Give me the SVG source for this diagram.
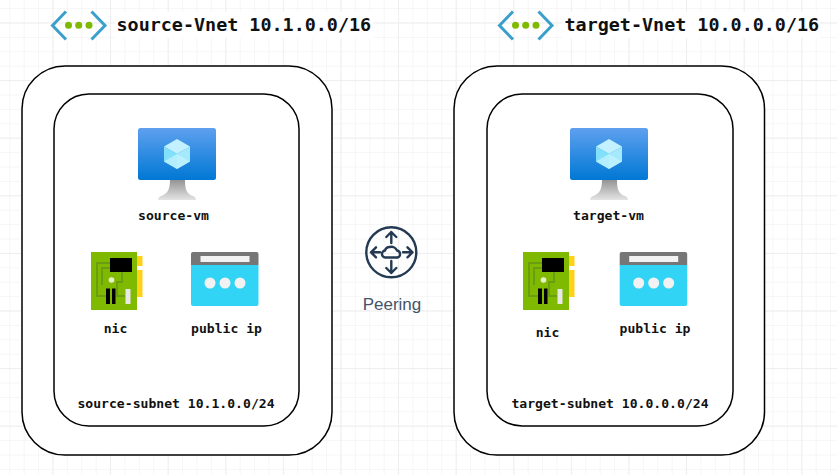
<svg xmlns="http://www.w3.org/2000/svg" xmlns:xlink="http://www.w3.org/1999/xlink" width="837" height="475" viewBox="0 0 837 475">
<style>
.box{fill:#fff;stroke:#000;stroke-width:1.5}
.t{font-family:"DejaVu Sans Mono","Liberation Mono",monospace;font-weight:700;fill:#111;text-anchor:middle}
.h{font-size:18.4px;text-anchor:start}
.n{font-size:13.1px}
.ch{fill:none;stroke:#3b9fcc;stroke-width:3}
.pe{fill:none;stroke:#243a53;stroke-width:2.4;stroke-linecap:round;stroke-linejoin:round}
</style>
<defs>
<pattern id="minor" patternUnits="userSpaceOnUse" x="-5.1" y="-35.1" width="14.4" height="14.4">
<path d="M0 0H14.4M0 0V14.4" fill="none" stroke="#f3f3f3" stroke-width="1.4"/>
</pattern>
<pattern id="major" patternUnits="userSpaceOnUse" x="-5.1" y="-35.1" width="57.6" height="57.6">
<path d="M0 0H57.6M0 0V57.6" fill="none" stroke="#ececec" stroke-width="1.4"/>
</pattern>
<linearGradient id="scr" x1="0" y1="0" x2="0" y2="1">
<stop offset="0" stop-color="#5ea0ef"/><stop offset="1" stop-color="#0078d4"/>
</linearGradient>
<linearGradient id="std" x1="0" y1="0" x2="0" y2="1">
<stop offset="0" stop-color="#949494"/><stop offset="1" stop-color="#e4e4e4"/>
</linearGradient>
<g id="vnet-icon">
<path class="ch" d="M66 11.5L52.5 25.5L66 39.5M91.5 11.5L105 25.5L91.5 39.5"/>
<circle cx="68.5" cy="25.3" r="3.5" fill="#7fba00"/><circle cx="78.7" cy="25.3" r="3.5" fill="#7fba00"/><circle cx="89" cy="25.3" r="3.5" fill="#7fba00"/>
</g>
<g id="vm-icon">
<rect x="138" y="128" width="78" height="52" rx="2.5" fill="url(#scr)"/>
<path d="M170 180H185C185 190 187 194 193 196C195 197 196 198 196 200H158C158 198 159 197 161 196C167 194 170 190 170 180Z" fill="url(#std)"/>
<path d="M177 139L190 146.5L177 154L164 146.5Z" fill="#c3f1ff"/>
<path d="M164 146.5L177 154V169L164 161.5Z" fill="#83e0fb"/>
<path d="M190 146.5L177 154V169L190 161.5Z" fill="#a5e9fd"/>
<path d="M164 161.5L177 154L190 161.5L177 169Z" fill="#c3f1ff" opacity=".75"/>
</g>
<g id="nic-icon">
<rect x="137" y="256" width="5.5" height="10" fill="#ffd119"/>
<rect x="137" y="270" width="5.5" height="27" fill="#ffd119"/>
<rect x="91" y="252" width="46" height="58" fill="#7fba00"/>
<path d="M110 263H97V296H106M110 268H102V285M122 272V282H117V296H125" fill="none" stroke="#6a9e10" stroke-width="2"/>
<rect x="110" y="258" width="22" height="14" fill="#000"/>
<circle cx="111.5" cy="280" r="2.8" fill="#e6f0d0"/>
<rect x="106" y="288.500" width="4" height="15.500" fill="#000"/>
<rect x="112" y="288.500" width="3.500" height="15.500" fill="#000"/>
<rect x="125.500" y="289" width="5" height="15" fill="#e8e8e8"/>
</g>
<g id="ip-icon">
<path d="M193 252H256.500A2 2 0 0 1 258.500 254V265H191V254A2 2 0 0 1 193 252Z" fill="#767676"/>
<path d="M191 265H258.500V304A2 2 0 0 1 256.500 306H193A2 2 0 0 1 191 304Z" fill="#32d4f5"/>
<rect x="200.500" y="256" width="49" height="6" fill="#f2f2f2"/>
<circle cx="210" cy="283" r="5.500" fill="#f2f2f2"/><circle cx="225" cy="283" r="5.500" fill="#f2f2f2"/><circle cx="240" cy="283" r="5.500" fill="#f2f2f2"/>
</g>
</defs>

<rect width="837" height="475" fill="#fff"/>
<rect width="837" height="475" fill="url(#minor)"/>
<rect width="837" height="475" fill="url(#major)"/>

<g id="connectors"/>

<g id="source-vnet">
<rect class="box" x="22" y="66" width="310" height="389" rx="43"/>
<use xlink:href="#vnet-icon" href="#vnet-icon"/>
<rect x="115" y="12" width="258" height="26" fill="#fff"/>
<text class="t h" x="116.500" y="31">source-Vnet 10.1.0.0/16</text>
</g>
<g id="source-subnet">
<rect class="box" x="54" y="94" width="245" height="332" rx="35"/>
<text class="t n" x="176" y="408">source-subnet 10.1.0.0/24</text>
</g>
<g id="source-vm">
<use xlink:href="#vm-icon" href="#vm-icon"/>
<text class="t n" x="173.500" y="220">source-vm</text>
</g>
<g id="source-nic">
<use xlink:href="#nic-icon" href="#nic-icon"/>
<text class="t n" x="115.500" y="333">nic</text>
</g>
<g id="source-ip">
<use xlink:href="#ip-icon" href="#ip-icon"/>
<text class="t n" x="226.500" y="333">public ip</text>
</g>

<g id="target-vnet">
<rect class="box" x="454" y="66" width="310.500" height="389" rx="43"/>
<use xlink:href="#vnet-icon" href="#vnet-icon" x="447"/>
<rect x="562" y="12" width="258" height="26" fill="#fff"/>
<text class="t h" x="564.500" y="31">target-Vnet 10.0.0.0/16</text>
</g>
<g id="target-subnet">
<rect class="box" x="487" y="94" width="246" height="332" rx="35"/>
<text class="t n" x="610" y="408">target-subnet 10.0.0.0/24</text>
</g>
<g id="target-vm">
<use xlink:href="#vm-icon" href="#vm-icon" x="432"/>
<text class="t n" x="608.500" y="220">target-vm</text>
</g>
<g id="target-nic">
<use xlink:href="#nic-icon" href="#nic-icon" x="432"/>
<text class="t n" x="547.500" y="337">nic</text>
</g>
<g id="target-ip">
<use xlink:href="#ip-icon" href="#ip-icon" x="428.700"/>
<text class="t n" x="655" y="333">public ip</text>
</g>

<g id="peering">
<circle class="pe" cx="391.300" cy="252.300" r="25"/>
<path class="pe" d="M391.300 243V232M386.300 237L391.300 232L396.300 237M391.300 261V273M386.300 268L391.300 273L396.300 268M380 252.300H371M376 247.300L371 252.300L376 257.300M403 252.300H412.500M407.500 247.300L412.500 252.300L407.500 257.300"/>
<path class="pe" d="M386 257.500A3.500 3.500 0 0 1 385 250.500A4.500 4.500 0 0 1 390 247A6 6 0 0 1 397 250.500A3.600 3.600 0 0 1 397.500 257.500Z" stroke-width="2"/>
<text x="392" y="310" font-family="Liberation Sans,Arial,sans-serif" font-size="17" fill="#44546a" text-anchor="middle">Peering</text>
</g>
</svg>
